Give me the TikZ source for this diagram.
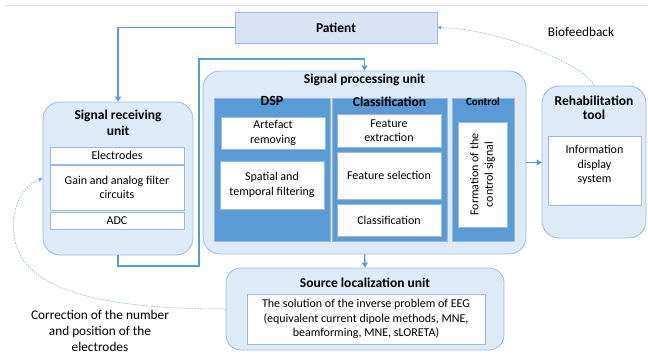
\documentclass[tikz,border=0pt]{standalone}
\usepackage{fontspec}
\setmainfont{Carlito}
\usetikzlibrary{arrows.meta,positioning,calc}

\definecolor{unitfill}{HTML}{DEEBF7}
\definecolor{unitline}{HTML}{9DB9E0}
\definecolor{colfill}{HTML}{5B9BD5}
\definecolor{patfill}{HTML}{DAE3F3}
\definecolor{connblue}{HTML}{5B9BD5}

\newcommand{\bodyfont}{\fontsize{12}{14.4}\selectfont}
\newcommand{\headfont}{\bfseries\fontsize{13.5}{16}\selectfont}
\newcommand{\lblfont}{\fontsize{13.3}{16}\selectfont}

\tikzset{
  unit/.style={draw=unitline, fill=unitfill, rounded corners=17pt, line width=0.8pt, inner sep=0pt},
  column/.style={draw=unitline, fill=colfill, line width=0.6pt, inner sep=0pt},
  item/.style={draw=unitline, fill=white, line width=0.8pt, align=center, inner sep=0pt, font=\bodyfont},
  head/.style={font=\headfont, align=center, inner sep=0pt},
  lbl/.style={font=\lblfont, align=center, inner sep=0pt},
  conn/.style={draw=connblue, line width=1.6pt, -{Triangle[length=5pt,width=6pt]}},
  hint/.style={draw=connblue!85, line width=0.5pt, dash pattern=on 1.5pt off 1.2pt, -{Triangle[length=4pt,width=4pt]}},
}

\begin{document}
\begin{tikzpicture}[x=1pt,y=-1pt]
\useasboundingbox (0,0) rectangle (648,354);
\draw[black!15, line width=0.8pt] (6,5) -- (648,5);

% patient
\node[draw=unitline, fill=patfill, line width=0.8pt, minimum width=202pt, minimum height=31pt, font=\headfont] (patient) at (336,27.5) {Patient};

% signal receiving unit
\node[unit, minimum width=150pt, minimum height=153pt] (recv) at (118,178.5) {};
\node[head] (recv-t) at (118,123) {Signal receiving\\unit};
\node[item, minimum width=134pt, minimum height=17pt] (electrodes) at (117,155.5) {Electrodes};
\node[item, minimum width=134pt, minimum height=45pt] (gain) at (117,187.5) {Gain and analog filter\\circuits};
\node[item, minimum width=134pt, minimum height=17pt] (adc) at (117,220.5) {ADC};

% signal processing unit
\node[unit, minimum width=323pt, minimum height=183pt] (spu) at (364.5,162.5) {};
\node[head] (spu-t) at (364.5,80) {Signal processing unit};

\node[column, minimum width=116pt, minimum height=143pt] (dsp) at (272,169.5) {};
\node[column, minimum width=115pt, minimum height=143pt] (class) at (389.5,169.5) {};
\node[column, minimum width=62pt, minimum height=143pt] (control) at (483,169.5) {};
\node[head, font=\bfseries\fontsize{14}{16}\selectfont] (dsp-t) at (272,100.5) {DSP};
\node[head] (class-t) at (389.5,101.5) {Classification};
\node[head, font=\bfseries\fontsize{11}{13}\selectfont] (control-t) at (483,102) {Control};

\node[item, minimum width=104pt, minimum height=32pt] (artefact) at (273,133) {Artefact\\removing};
\node[item, minimum width=104pt, minimum height=48pt] (spatial) at (272,185) {Spatial and\\temporal filtering};

\node[item, minimum width=104pt, minimum height=33pt] (featext) at (389,130.5) {Feature\\extraction};
\node[item, minimum width=104pt, minimum height=47pt] (featsel) at (389,175.5) {Feature selection};
\node[item, minimum width=104pt, minimum height=32pt] (classif) at (389,220) {Classification};

\node[item, rotate=90, minimum width=105pt, minimum height=49pt] (formation) at (482.5,174.5) {Formation of the\\control signal};

% rehabilitation tool
\node[unit, minimum width=104pt, minimum height=152pt] (rehab) at (594,162) {};
\node[head] (rehab-t) at (594,108) {Rehabilitation\\[-1.7pt]tool};
\node[item, minimum width=93pt, minimum height=69pt] (info) at (594.5,170.5) {};
\node[font=\bodyfont, align=center, inner sep=0pt] (info-txt) at (594.5,165) {Information\\display\\system};

% source localization unit
\node[unit, rounded corners=15pt, minimum width=278pt, minimum height=82pt] (srcloc) at (365,309) {};
\node[head] (srcloc-t) at (365,283) {Source localization unit};
\node[item, minimum width=238pt, minimum height=50pt] (solution) at (366,319) {The solution of the inverse problem of EEG\\(equivalent current dipole methods, MNE,\\beamforming, MNE, sLORETA)};

% labels
\node[lbl] (biofeedback) at (581,32) {Biofeedback};
\node[lbl] (correction) at (100,331) {Correction of the number\\and position of the\\electrodes};

% connectors
\coordinate (loop-bl) at (199,266);
\coordinate (loop-tl) at (199,59);
\coordinate (corr-bend) at (14,235);

\draw[conn] (patient.west) -| (recv.north);
\draw[conn] (recv.south) |- (loop-bl) -- (loop-tl) -| (spu.north);
\draw[conn] (spu.east) -- (spu.east -| rehab.west);
\draw[conn] (spu.south) -- (srcloc.north);

\draw[hint] (rehab.north) .. controls (590,70) and (510,30) .. (patient.east);
\draw[hint] (srcloc.west) .. controls (100,309) and (20,290) .. (corr-bend)
  .. controls (10,205) and (25,185) .. (recv.west);
\end{tikzpicture}
\end{document}
